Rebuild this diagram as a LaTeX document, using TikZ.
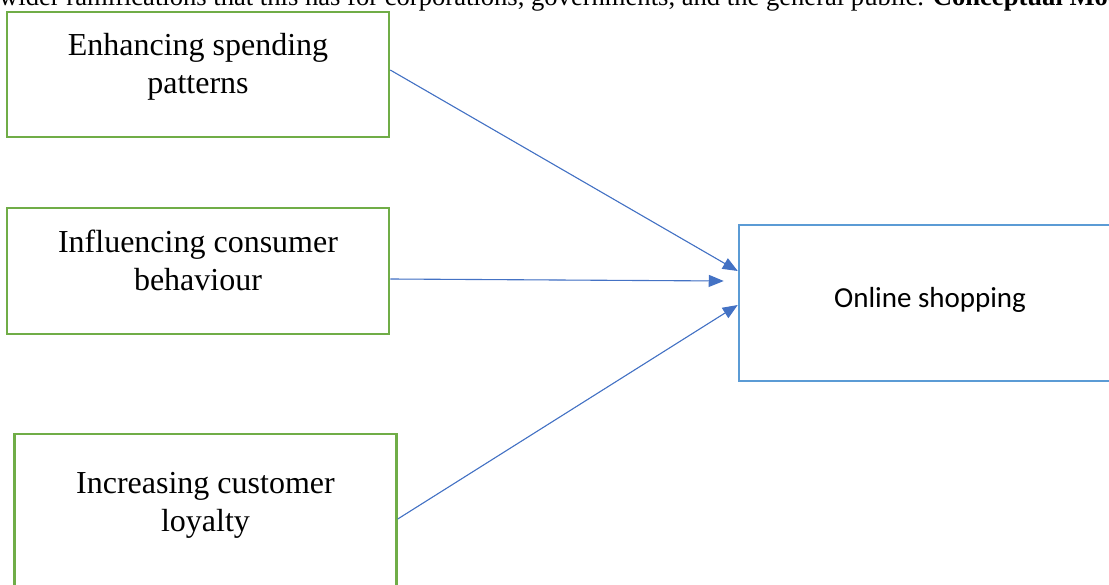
\documentclass[tikz,border=0pt]{standalone}
\usepackage{fontspec}
\setmainfont{Liberation Serif}
\newfontfamily\calibri{Carlito}
\usetikzlibrary{arrows.meta}

\definecolor{boxgreen}{RGB}{112,173,71}
\definecolor{boxblue}{RGB}{91,155,213}
\definecolor{linkblue}{RGB}{68,114,196}

\begin{document}
\begin{tikzpicture}[x=1pt,y=-1pt]
      \tikzstyle{greenbox}=[draw=boxgreen, line width=2.5pt, minimum width=382pt, inner sep=0pt]
      \tikzstyle{bluebox}=[draw=boxblue, line width=2.5pt, minimum width=382pt, minimum height=156pt, text depth=12pt, font=\calibri\fontsize{29}{35}\selectfont]
      \tikzstyle{boxtext}=[align=center, inner sep=0pt, font=\fontsize{32}{38}\selectfont]
      \tikzstyle{link}=[-{Triangle[length=15pt,width=12pt]}, draw=linkblue, fill=linkblue, line width=1.1pt]

      \useasboundingbox (0,0) rectangle (1109,585);
      \clip (0,0) rectangle (1109,585);

      % line of the page above the figure
      \node[anchor=base west, inner sep=0pt, font=\fontsize{26.6}{32}\selectfont] (para) at (-1,6) {wider ramifications that this has for corporations, governments, and the general public. \textbf{Conceptual Model}};

      \node[greenbox, minimum height=125pt] (spend) at (198,74.5) {};
      \node[boxtext] (spendtxt) at (198,66.5) {Enhancing spending\\patterns};
      \node[greenbox, minimum height=126pt] (behav) at (198,271) {};
      \node[boxtext] (behavtxt) at (198,260.5) {Influencing consumer\\behaviour};
      \node[greenbox, minimum height=160pt] (loyal) at (205.5,514) {};
      \node[boxtext] (loyaltxt) at (205.5,505) {Increasing customer\\loyalty};
      \node[bluebox] (shop) at (930,303) {Online shopping};

      \draw[link] ([yshift=4.5pt]spend.east) -- ([yshift=32pt]shop.west);
      \draw[link] ([yshift=-8pt]behav.east) -- ([xshift=-14pt,yshift=22pt]shop.west);
      \draw[link] ([yshift=-5pt]loyal.east) -- ([yshift=-2pt]shop.west);

    \end{tikzpicture}
\end{document}
